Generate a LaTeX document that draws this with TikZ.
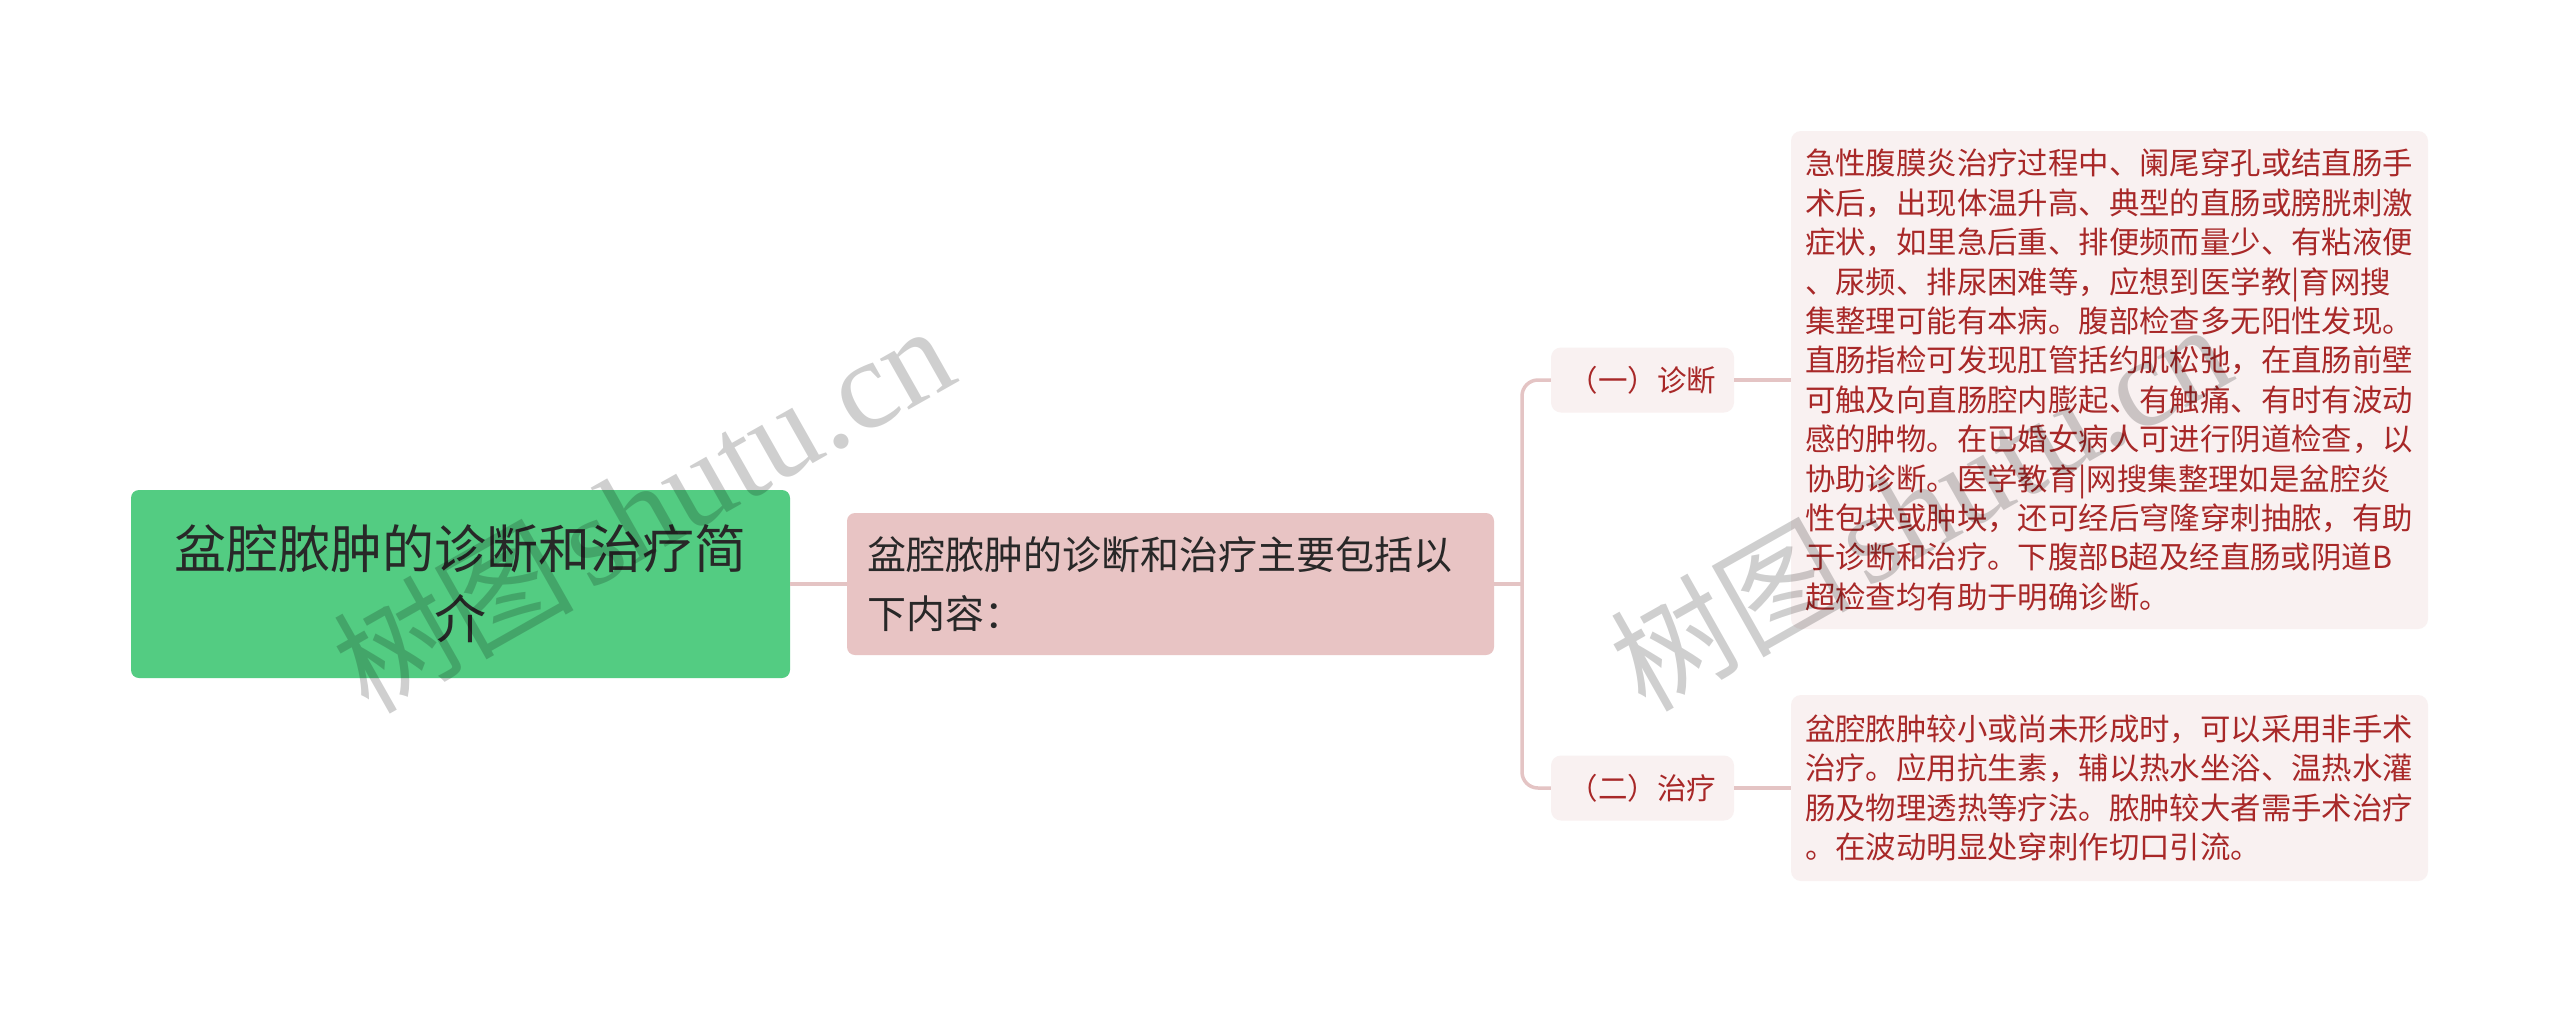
\documentclass[tikz,border=0pt]{standalone}
\usepackage{fontspec}
\setmainfont{Noto Sans CJK SC}
\newfontfamily\wmserif{Liberation Serif}
\definecolor{rootgreen}{RGB}{83,204,130}
\definecolor{darktext}{RGB}{40,40,40}
\definecolor{mainpink}{RGB}{232,196,196}
\definecolor{leafbg}{RGB}{249,241,241}
\definecolor{redtext}{RGB}{168,40,40}
\definecolor{linecol}{RGB}{228,196,196}
\begin{document}
\begin{tikzpicture}[x=1pt,y=-1pt,
  rootbox/.style={fill=rootgreen, rounded corners=8pt, align=center, inner sep=0pt,
    text=darktext, font=\fontsize{52}{70}\selectfont},
  mainbox/.style={fill=mainpink, rounded corners=8pt, align=left, inner xsep=20pt, inner ysep=0pt,
    text width=607pt, text=darktext, font=\fontsize{39}{59}\selectfont},
  branchbox/.style={fill=leafbg, rounded corners=10pt, align=center, inner sep=0pt,
    minimum width=183pt, minimum height=65pt, text=redtext, font=\fontsize{29.5}{39}\selectfont},
  leafbox/.style={fill=leafbg, rounded corners=10pt, align=left, inner xsep=14pt, inner ysep=0pt,
    text width=609pt, text=redtext, font=\fontsize{30.4}{39.4}\selectfont},
  conn/.style={draw=linecol, line width=3.5pt},
  wm/.style={text=black, opacity=0.19, rotate=29.5, inner sep=0pt}]
\fill[white] (0,0) rectangle (2560,1013);
\useasboundingbox (0,0) rectangle (2560,1013);

\node[rootbox, minimum width=659pt, minimum height=188pt] (root) at (460.5,584) {盆腔脓肿的诊断和治疗简\\介};
\node[mainbox, minimum height=142pt] (main) at (1170.5,584) {盆腔脓肿的诊断和治疗主要包括以\\下内容：};
\node[branchbox] (b1) at (1642.5,380) {（一）诊断};
\node[branchbox] (b2) at (1642.5,788) {（二）治疗};
\node[leafbox, minimum height=498pt] (l1) at (2109.5,380) {急性腹膜炎治疗过程中、阑尾穿孔或结直肠手\\
术后，出现体温升高、典型的直肠或膀胱刺激\\
症状，如里急后重、排便频而量少、有粘液便\\
、尿频、排尿困难等，应想到医学教|育网搜\\
集整理可能有本病。腹部检查多无阳性发现。\\
直肠指检可发现肛管括约肌松弛，在直肠前壁\\
可触及向直肠腔内膨起、有触痛、有时有波动\\
感的肿物。在已婚女病人可进行阴道检查，以\\
协助诊断。医学教育|网搜集整理如是盆腔炎\\
性包块或肿块，还可经后穹隆穿刺抽脓，有助\\
于诊断和治疗。下腹部B超及经直肠或阴道B\\
超检查均有助于明确诊断。};
\node[leafbox, minimum height=186pt] (l2) at (2109.5,788) {盆腔脓肿较小或尚未形成时，可以采用非手术\\
治疗。应用抗生素，辅以热水坐浴、温热水灌\\
肠及物理透热等疗法。脓肿较大者需手术治疗\\
。在波动明显处穿刺作切口引流。};

\coordinate (trunk) at (1522,584);
\draw[conn] (root.east) -- (main.west);
\draw[conn] (main.east) -- (trunk);
\draw[conn, rounded corners=16pt] (trunk) |- (b1.west);
\draw[conn, rounded corners=16pt] (trunk) |- (b2.west);
\draw[conn] (b1.east) -- (l1.west);
\draw[conn] (b2.east) -- (l2.west);

\node[wm] (wm1) at (643,508) {\fontsize{120}{120}\selectfont 树图\hspace{15pt}{\wmserif\fontsize{127}{127}\selectfont shutu.cn}};
\node[wm] (wm2) at (1920,506) {\fontsize{120}{120}\selectfont 树图\hspace{15pt}{\wmserif\fontsize{127}{127}\selectfont shutu.cn}};
\end{tikzpicture}
\end{document}
